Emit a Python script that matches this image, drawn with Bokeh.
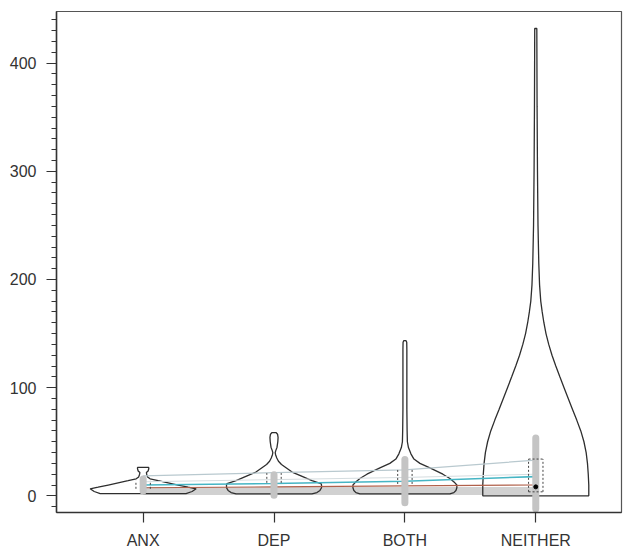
import numpy as np
from bokeh.plotting import figure
from bokeh.models import FixedTicker, Range1d
from bokeh.embed import file_html
from bokeh.resources import INLINE

categories = ["ANX", "DEP", "BOTH", "NEITHER"]
positions = [1, 2, 3, 4]

# violin profiles: value levels and half-widths (x units)
anx_y = [2, 4, 6.5, 8, 10, 12, 14, 15.7, 17.5, 20, 21.5, 23, 25, 26.3]
anx_w = [0.328, 0.374, 0.405, 0.344, 0.267, 0.191, 0.115, 0.053, 0.034, 0.027, 0.025, 0.038, 0.043, 0.043]

dep_y = [1.8, 3, 5, 7.5, 10, 11.4, 14, 18.5, 22, 26, 29, 32, 35, 38, 40, 42, 45, 50, 54, 57, 58.5]
dep_w = [0.290, 0.328, 0.351, 0.363, 0.363, 0.359, 0.290, 0.206, 0.138, 0.092, 0.057, 0.034, 0.021,
         0.012, 0.009, 0.014, 0.023, 0.029, 0.031, 0.027, 0.015]

both_y = [1.8, 3, 5, 7.5, 10, 12, 16, 20, 25.9, 30, 34, 38.8, 44.6, 50, 60, 80, 100, 120, 135, 142, 143.5]
both_w = [0.344, 0.374, 0.390, 0.397, 0.397, 0.382, 0.344, 0.290, 0.191, 0.115, 0.069, 0.046, 0.027,
          0.019, 0.017, 0.015, 0.015, 0.015, 0.015, 0.014, 0.008]

neither_y = [0, 10, 20, 30, 40, 50, 60, 70, 80, 90, 100, 110, 120, 130, 140, 150, 160, 170, 180,
             195, 215, 250, 300, 360, 432]
neither_w = [0.405, 0.405, 0.401, 0.395, 0.385, 0.368, 0.344, 0.313, 0.280, 0.248, 0.216, 0.184,
             0.153, 0.124, 0.099, 0.078, 0.062, 0.049, 0.038, 0.029, 0.023, 0.017, 0.013, 0.010, 0.008]

profiles_y = [anx_y, dep_y, both_y, neither_y]
profiles_w = [anx_w, dep_w, both_w, neither_w]

# connecting lines across groups
line_top = [18.5, 21.5, 24, 33]
line_faint = [13, 15, 17, 20]
line_teal = [10, 11.4, 13.5, 17.8]
line_red = [7.5, 8.3, 9.2, 10]
band = [4.5, 4.5, 4.5, 4.5]

# grey vertical range bars
bar_lo = [4.5, 0.5, -6.5, -12]
bar_hi = [15.5, 19.5, 33.5, 53.5]

# dotted boxes
box_lo = [6.5, 12, 11, 3.7]
box_hi = [14, 21, 25, 34]
box_hw = 0.055

median_x = [4.0]
median_y = [8.3]

p = figure(frame_width=565, frame_height=501, output_backend="svg", toolbar_location=None,
           x_range=Range1d(0.338, 4.655), y_range=Range1d(-15.4, 447.7),
           min_border_left=56, min_border_right=4, min_border_top=11, min_border_bottom=38)
p.grid.visible = False
p.outline_line_color = "#555555"
p.outline_line_width = 1.2
p.background_fill_color = "white"
p.border_fill_color = "white"

# band
p.line(positions, band, line_color="#cccccc", line_width=8, line_alpha=0.9)

# violins
for c, ys, ws in zip(positions, profiles_y, profiles_w):
    ys = np.array(ys, dtype=float)
    ws = np.array(ws, dtype=float)
    xs = np.concatenate([c - ws, (c + ws)[::-1]])
    yy = np.concatenate([ys, ys[::-1]])
    p.patch(xs, yy, fill_alpha=0, line_color="#2e2e2e", line_width=1.3)

# connecting lines
p.line(positions, line_faint, line_color="#d5dde0", line_width=1)
p.line(positions, line_top, line_color="#b9c9cf", line_width=1.2)
p.line(positions, line_teal, line_color="#45b5c4", line_width=1.6)
p.line(positions, line_red, line_color="#b0604a", line_width=1.2)

# grey vertical bars
p.segment(x0=positions, y0=bar_lo, x1=positions, y1=bar_hi, line_color="#c4c4c4",
          line_width=7, line_cap="round")

# dotted boxes (vertical sides)
lx = [c - box_hw for c in positions]
rx = [c + box_hw for c in positions]
p.segment(x0=lx, y0=box_lo, x1=lx, y1=box_hi, line_color="#444444", line_width=1, line_dash="2 2")
p.segment(x0=rx, y0=box_lo, x1=rx, y1=box_hi, line_color="#444444", line_width=1, line_dash="2 2")
p.segment(x0=[lx[3], lx[3]], y0=[box_lo[3], box_hi[3]], x1=[rx[3], rx[3]], y1=[box_lo[3], box_hi[3]],
          line_color="#444444", line_width=1, line_dash="2 2")

p.scatter(median_x, median_y, size=4, color="black")

# axes
p.xaxis.ticker = FixedTicker(ticks=positions)
p.xaxis.major_label_overrides = {pos: cat for pos, cat in zip(positions, categories)}
p.yaxis.ticker = FixedTicker(ticks=[0, 100, 200, 300, 400], minor_ticks=list(range(-10, 450, 10)))

for ax in (p.xaxis, p.yaxis):
    ax.axis_line_color = "#333333"
    ax.axis_line_width = 1.5
    ax.major_tick_line_color = "#333333"
    ax.major_tick_line_width = 1.2
    ax.major_tick_out = 10
    ax.major_tick_in = 0
    ax.minor_tick_line_color = "#333333"
    ax.minor_tick_line_width = 1.2
    ax.minor_tick_out = 5
    ax.minor_tick_in = 0
    ax.major_label_text_font = "Liberation Sans"
    ax.major_label_text_font_size = "16px"
    ax.major_label_text_color = "#333333"

p.xaxis.minor_tick_out = 0
p.xaxis.major_label_standoff = 9
p.yaxis.major_label_standoff = 10

open("out.html", "w").write(file_html(p, INLINE))
